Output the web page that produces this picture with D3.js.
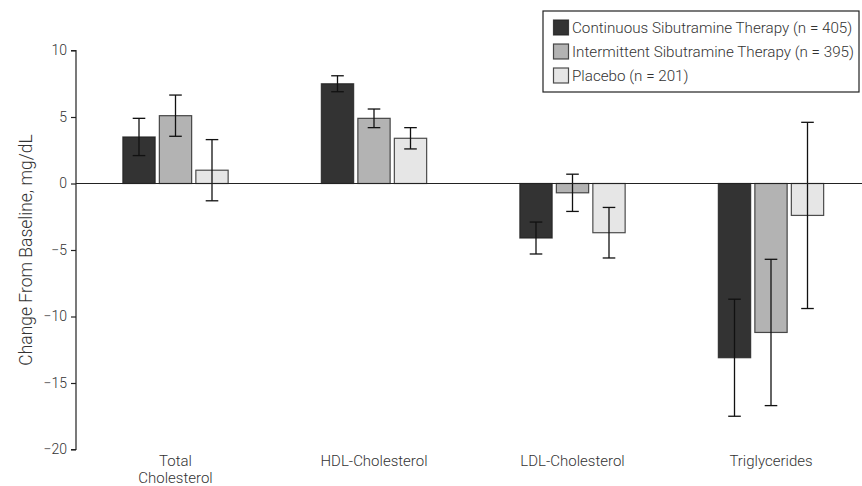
<!DOCTYPE html>
<html>
<head>
<meta charset="utf-8">
<script src="https://cdn.jsdelivr.net/npm/d3@7"></script>
<style>
  html, body { margin: 0; padding: 0; background: #fff; }
  svg text { font-family: Roboto, "Liberation Sans", Arial, sans-serif; font-weight: 300; fill: #333; }
</style>
</head>
<body>
<svg id="chart" width="862" height="486"></svg>
<script>
// Lipid changes from baseline by treatment group
const categories = ["Total\nCholesterol", "HDL-Cholesterol", "LDL-Cholesterol", "Triglycerides"];
const seriesNames = [
  "Continuous Sibutramine Therapy (n = 405)",
  "Intermittent Sibutramine Therapy (n = 395)",
  "Placebo (n = 201)"
];
const continuousValues = [3.5, 7.5, -4.1, -13.1];
const continuousErrors = [1.4, 0.6, 1.2, 4.4];
const intermittentValues = [5.1, 4.9, -0.7, -11.2];
const intermittentErrors = [1.55, 0.7, 1.4, 5.5];
const placeboValues = [1.0, 3.4, -3.7, -2.4];
const placeboErrors = [2.3, 0.8, 1.9, 7.0];
const yTicks = [10, 5, 0, -5, -10, -15, -20];

const fills = ["#333333", "#b3b3b3", "#e6e6e6"];
const seriesValues = [continuousValues, intermittentValues, placeboValues];
const seriesErrors = [continuousErrors, intermittentErrors, placeboErrors];

const svg = d3.select("#chart");
const axisX = 76;

const y = d3.scaleLinear().domain([-20, 10]).range([449.5, 50.5]);
const x0 = d3.scaleBand().domain(categories).range([76.25, 870.25]).paddingInner(0).paddingOuter(0);
const x1 = d3.scaleBand().domain(d3.range(3)).range([0, 105.3]).paddingInner(0.115).paddingOuter(0);
const innerOffset = (x0.bandwidth() - 105.3) / 2;

// y axis
const yAxis = d3.axisLeft(y).tickValues(yTicks).tickSize(5).tickPadding(4)
  .tickFormat(d => d < 0 ? "\u2212" + Math.abs(d) : String(d));
const gy = svg.append("g").attr("transform", `translate(${axisX},0)`).call(yAxis);
gy.select(".domain").attr("stroke", "#222").attr("stroke-width", 1.2).attr("d", `M-5,${y(10)}H0V${y(-20)}H-5`);
gy.selectAll(".tick line").attr("stroke", "#222").attr("stroke-width", 1.2);
gy.selectAll(".tick text").attr("font-size", 14).attr("fill", "#333")
  .attr("font-family", "Roboto, \"Liberation Sans\", Arial, sans-serif");

svg.append("text")
  .attr("transform", `translate(27,${(y(10) + y(-20)) / 2}) rotate(-90)`)
  .attr("text-anchor", "middle")
  .attr("dominant-baseline", "middle")
  .attr("font-size", 17.5)
  .text("Change From Baseline, mg/dL");

// bars
const groups = svg.append("g").selectAll("g")
  .data(categories)
  .join("g")
  .attr("transform", d => `translate(${x0(d) + innerOffset},0)`);

groups.each(function(cat, ci) {
  const g = d3.select(this);
  seriesValues.forEach((vals, si) => {
    const v = vals[ci];
    const e = seriesErrors[si][ci];
    const bx = x1(si);
    const bw = x1.bandwidth();
    g.append("rect")
      .attr("x", bx)
      .attr("y", Math.min(y(v), y(0)))
      .attr("width", bw)
      .attr("height", Math.abs(y(v) - y(0)))
      .attr("fill", fills[si])
      .attr("stroke", "#222")
      .attr("stroke-opacity", 0.8)
      .attr("stroke-width", 1.2);
    const cx = bx + bw / 2;
    const cap = 6.3;
    const eb = g.append("g").attr("stroke", "#111").attr("stroke-width", 1.3).attr("fill", "none");
    eb.append("line").attr("x1", cx).attr("x2", cx).attr("y1", y(v + e)).attr("y2", y(v - e));
    eb.append("line").attr("x1", cx - cap).attr("x2", cx + cap).attr("y1", y(v + e)).attr("y2", y(v + e));
    eb.append("line").attr("x1", cx - cap).attr("x2", cx + cap).attr("y1", y(v - e)).attr("y2", y(v - e));
  });
});

// zero line
svg.append("line")
  .attr("x1", axisX).attr("x2", 862)
  .attr("y1", y(0)).attr("y2", y(0))
  .attr("stroke", "#222").attr("stroke-width", 1.2);

// category labels
const labels = svg.append("g").selectAll("text")
  .data(categories)
  .join("text")
  .attr("x", d => x0(d) + x0.bandwidth() / 2)
  .attr("y", 466)
  .attr("text-anchor", "middle")
  .attr("font-size", 15);
labels.each(function(d) {
  const t = d3.select(this);
  d.split("\n").forEach((line, i) => {
    t.append("tspan").attr("x", t.attr("x")).attr("dy", i === 0 ? 0 : 17).text(line);
  });
});

// legend
const legend = svg.append("g");
legend.append("rect")
  .attr("x", 543).attr("y", 11).attr("width", 316).attr("height", 81)
  .attr("fill", "#fff").attr("stroke", "#222").attr("stroke-width", 1.2);
seriesNames.forEach((name, i) => {
  const cy = 27.5 + i * 24;
  legend.append("rect")
    .attr("x", 553.5).attr("y", cy - 7.5).attr("width", 15).attr("height", 15)
    .attr("fill", fills[i]).attr("stroke", "#222").attr("stroke-opacity", 0.8).attr("stroke-width", 1.2);
  legend.append("text")
    .attr("x", 572).attr("y", cy + 1)
    .attr("dominant-baseline", "middle")
    .attr("font-size", 15.2)
    .text(name);
});
</script>
</body>
</html>
